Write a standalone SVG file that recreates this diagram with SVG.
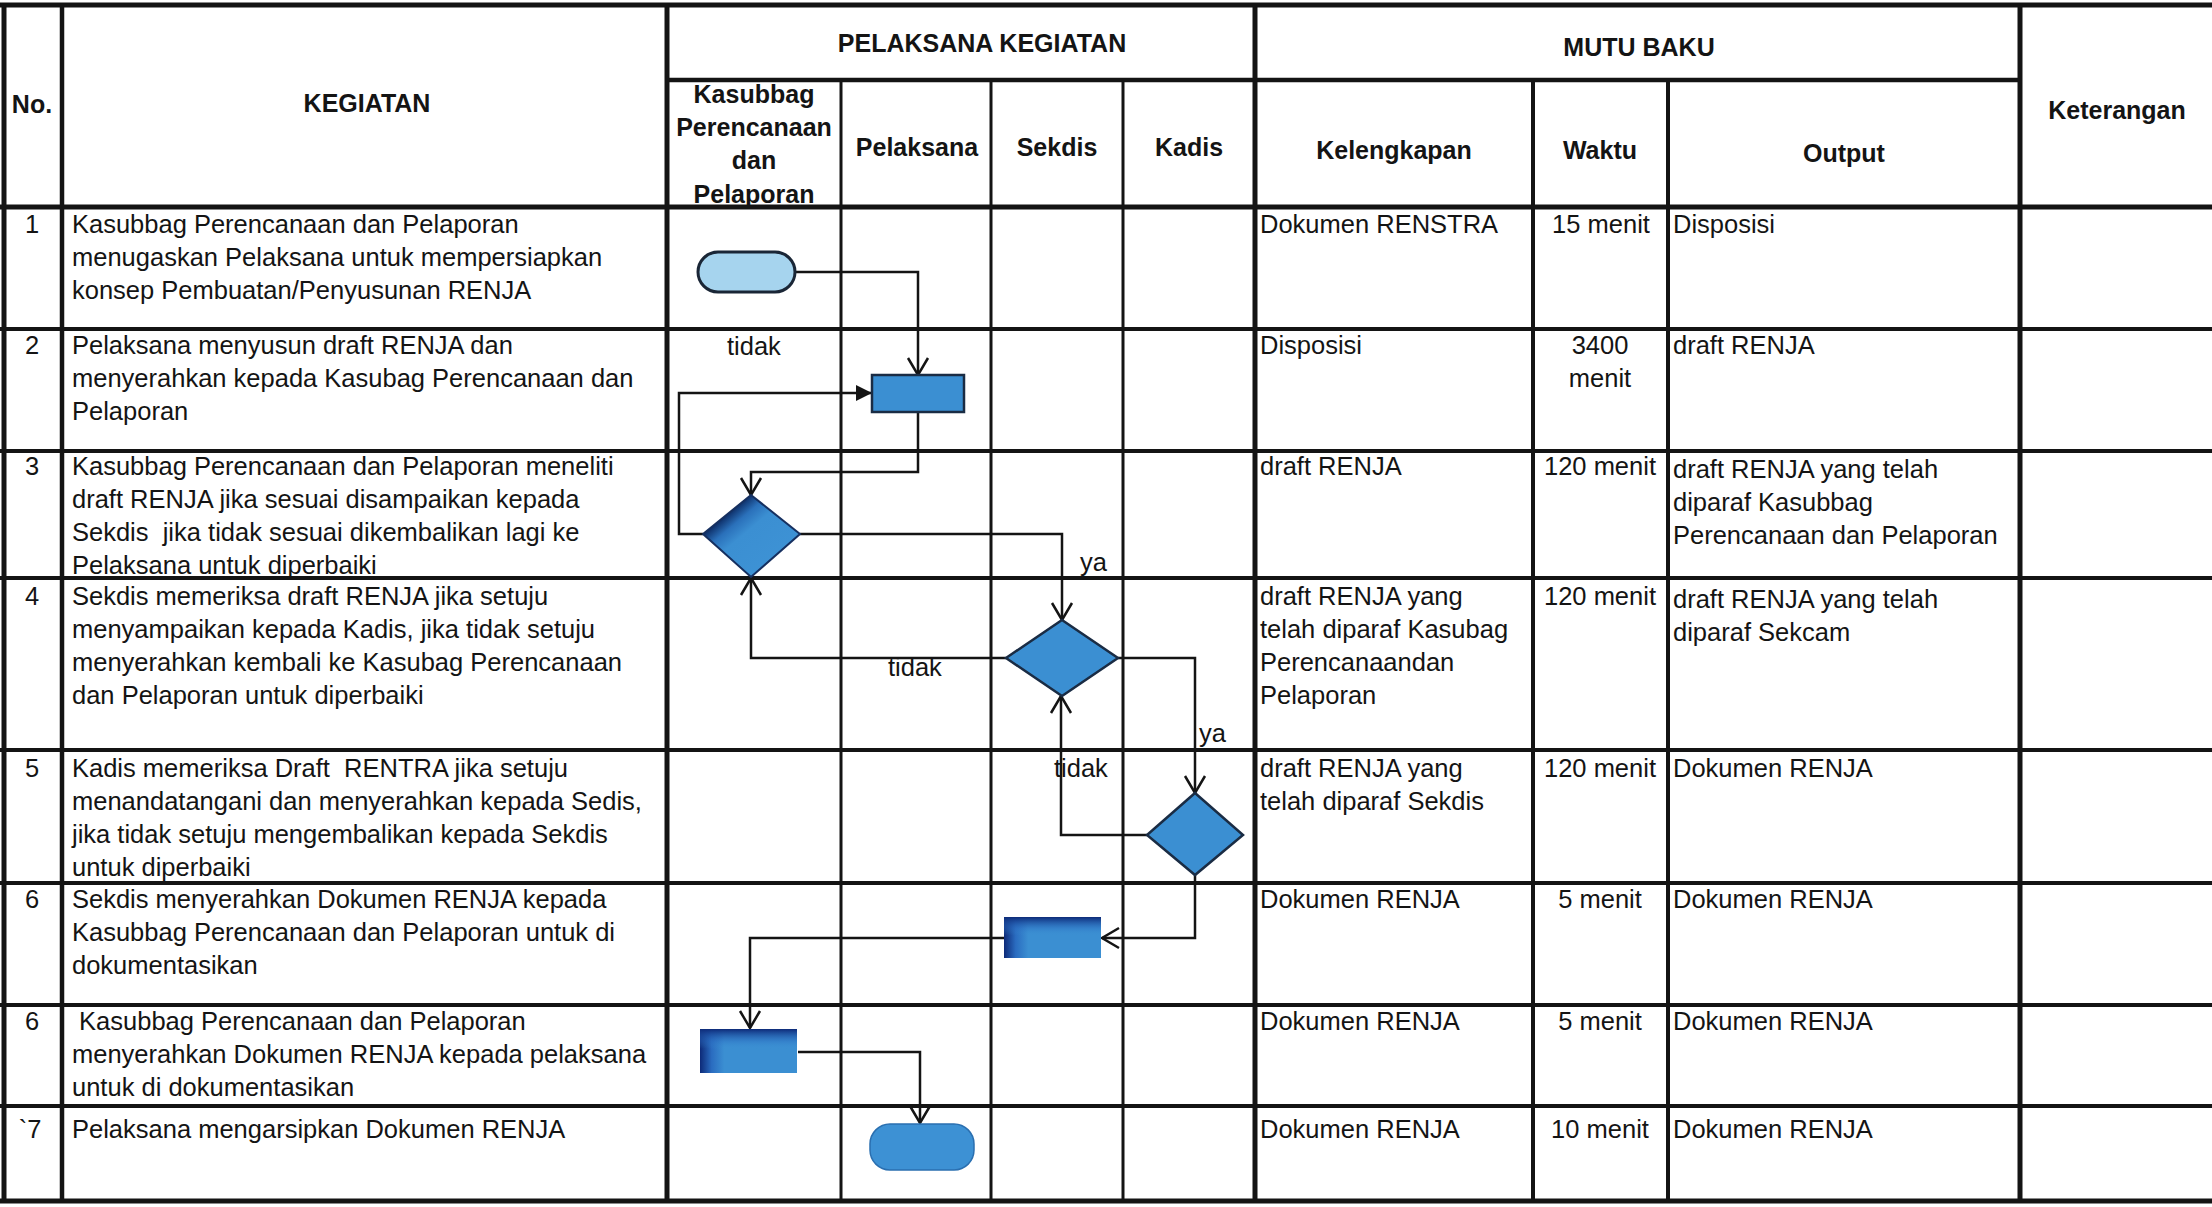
<svg xmlns="http://www.w3.org/2000/svg" width="2212" height="1207" viewBox="0 0 2212 1207">
<style>
.t{font-family:"Liberation Sans",Arial,sans-serif;font-size:25.5px;fill:#141414;white-space:pre}
.h{font-family:"Liberation Sans",Arial,sans-serif;font-size:25px;font-weight:bold;fill:#141414;text-anchor:middle}
.c{text-anchor:middle}
.L{stroke:#141414;fill:none}
.conn{fill:none;stroke:#141414;stroke-width:2.5}
.blue{fill:#3b8fd2;stroke:#1a2c44;stroke-width:2.5}
</style>
<defs>
<marker id="open" markerUnits="userSpaceOnUse" markerWidth="24" markerHeight="24" viewBox="0 0 24 24" refX="22" refY="12" orient="auto">
<path d="M5,2 L22,12 L5,22" fill="none" stroke="#141414" stroke-width="2.5"/>
</marker>
<marker id="solid" markerUnits="userSpaceOnUse" markerWidth="18" markerHeight="18" viewBox="0 0 18 18" refX="17" refY="9" orient="auto">
<path d="M1,1 L17,9 L1,17 Z" fill="#141414"/>
</marker>
<linearGradient id="gDia" x1="0" y1="0" x2="1" y2="1">
<stop offset="0" stop-color="#0a2458"/>
<stop offset="0.24" stop-color="#0d2d66"/>
<stop offset="0.34" stop-color="#2a70ba"/>
<stop offset="0.45" stop-color="#3b8fd2"/>
<stop offset="1" stop-color="#3f94d6"/>
</linearGradient>
<linearGradient id="gTop" x1="0" y1="0" x2="0" y2="1">
<stop offset="0" stop-color="#0d2a78" stop-opacity="1"/>
<stop offset="0.28" stop-color="#2a6cc0" stop-opacity="0.4"/>
<stop offset="0.45" stop-color="#3b8fd2" stop-opacity="0"/>
</linearGradient>
<linearGradient id="gLeft" x1="0" y1="0" x2="1" y2="0">
<stop offset="0" stop-color="#0d2a78"/>
<stop offset="0.12" stop-color="#2a6cc0"/>
<stop offset="0.25" stop-color="#3b8fd2"/>
<stop offset="1" stop-color="#3b8fd2"/>
</linearGradient>
</defs>
<rect x="0" y="0" width="2212" height="1207" fill="#ffffff"/>

<g id="table">
<line class="L" x1="0" y1="5" x2="2212" y2="5" stroke-width="5"/>
<line class="L" x1="667" y1="80" x2="2020" y2="80" stroke-width="4.5"/>
<line class="L" x1="0" y1="207" x2="2212" y2="207" stroke-width="5"/>
<line class="L" x1="0" y1="329" x2="2212" y2="329" stroke-width="4"/>
<line class="L" x1="0" y1="451" x2="2212" y2="451" stroke-width="4"/>
<line class="L" x1="0" y1="578" x2="2212" y2="578" stroke-width="4"/>
<line class="L" x1="0" y1="750" x2="2212" y2="750" stroke-width="4"/>
<line class="L" x1="0" y1="883" x2="2212" y2="883" stroke-width="4"/>
<line class="L" x1="0" y1="1005" x2="2212" y2="1005" stroke-width="4"/>
<line class="L" x1="0" y1="1106" x2="2212" y2="1106" stroke-width="4"/>
<line class="L" x1="0" y1="1201" x2="2212" y2="1201" stroke-width="5"/>
<line class="L" x1="4" y1="5" x2="4" y2="1201" stroke-width="5"/>
<line class="L" x1="62" y1="5" x2="62" y2="1201" stroke-width="4.5"/>
<line class="L" x1="667" y1="5" x2="667" y2="1201" stroke-width="5"/>
<line class="L" x1="841" y1="80" x2="841" y2="1201" stroke-width="3"/>
<line class="L" x1="991" y1="80" x2="991" y2="1201" stroke-width="3"/>
<line class="L" x1="1123" y1="80" x2="1123" y2="1201" stroke-width="3"/>
<line class="L" x1="1255" y1="5" x2="1255" y2="1201" stroke-width="5"/>
<line class="L" x1="1533" y1="80" x2="1533" y2="1201" stroke-width="4"/>
<line class="L" x1="1668" y1="80" x2="1668" y2="1201" stroke-width="4"/>
<line class="L" x1="2020" y1="5" x2="2020" y2="1201" stroke-width="5"/>
</g>

<g id="headers">
<text class="h" x="32" y="113">No.</text>
<text class="h" x="367" y="112">KEGIATAN</text>
<text class="h" x="982" y="52">PELAKSANA KEGIATAN</text>
<text class="h" x="1639" y="56">MUTU BAKU</text>
<text class="h" x="754" y="103">Kasubbag</text>
<text class="h" x="754" y="136">Perencanaan</text>
<text class="h" x="754" y="169">dan</text>
<text class="h" x="754" y="203">Pelaporan</text>
<text class="h" x="917" y="156">Pelaksana</text>
<text class="h" x="1057" y="156">Sekdis</text>
<text class="h" x="1189" y="156">Kadis</text>
<text class="h" x="1394" y="159">Kelengkapan</text>
<text class="h" x="1600" y="159">Waktu</text>
<text class="h" x="1844" y="162">Output</text>
<text class="h" x="2117" y="119">Keterangan</text>
</g>

<g id="col-no">
<text class="t c" x="32" y="233">1</text>
<text class="t c" x="32" y="354">2</text>
<text class="t c" x="32" y="475">3</text>
<text class="t c" x="32" y="605">4</text>
<text class="t c" x="32" y="777">5</text>
<text class="t c" x="32" y="908">6</text>
<text class="t c" x="32" y="1030">6</text>
<text class="t c" x="30" y="1138">`7</text>
</g>

<g id="col-kegiatan">
<text class="t" x="72" y="233">Kasubbag Perencanaan dan Pelaporan</text>
<text class="t" x="72" y="266">menugaskan Pelaksana untuk mempersiapkan</text>
<text class="t" x="72" y="299">konsep Pembuatan/Penyusunan RENJA</text>
<text class="t" x="72" y="354">Pelaksana menyusun draft RENJA dan</text>
<text class="t" x="72" y="387">menyerahkan kepada Kasubag Perencanaan dan</text>
<text class="t" x="72" y="420">Pelaporan</text>
<text class="t" x="72" y="475">Kasubbag Perencanaan dan Pelaporan meneliti</text>
<text class="t" x="72" y="508">draft RENJA jika sesuai disampaikan kepada</text>
<text class="t" x="72" y="541">Sekdis  jika tidak sesuai dikembalikan lagi ke</text>
<text class="t" x="72" y="574">Pelaksana untuk diperbaiki</text>
<text class="t" x="72" y="605">Sekdis memeriksa draft RENJA jika setuju</text>
<text class="t" x="72" y="638">menyampaikan kepada Kadis, jika tidak setuju</text>
<text class="t" x="72" y="671">menyerahkan kembali ke Kasubag Perencanaan</text>
<text class="t" x="72" y="704">dan Pelaporan untuk diperbaiki</text>
<text class="t" x="72" y="777">Kadis memeriksa Draft  RENTRA jika setuju</text>
<text class="t" x="72" y="810">menandatangani dan menyerahkan kepada Sedis,</text>
<text class="t" x="72" y="843">jika tidak setuju mengembalikan kepada Sekdis</text>
<text class="t" x="72" y="876">untuk diperbaiki</text>
<text class="t" x="72" y="908">Sekdis menyerahkan Dokumen RENJA kepada</text>
<text class="t" x="72" y="941">Kasubbag Perencanaan dan Pelaporan untuk di</text>
<text class="t" x="72" y="974">dokumentasikan</text>
<text class="t" x="72" y="1030"> Kasubbag Perencanaan dan Pelaporan</text>
<text class="t" x="72" y="1063">menyerahkan Dokumen RENJA kepada pelaksana</text>
<text class="t" x="72" y="1096">untuk di dokumentasikan</text>
<text class="t" x="72" y="1138">Pelaksana mengarsipkan Dokumen RENJA</text>
</g>

<g id="col-kelengkapan">
<text class="t" x="1260" y="233">Dokumen RENSTRA</text>
<text class="t" x="1260" y="354">Disposisi</text>
<text class="t" x="1260" y="475">draft RENJA</text>
<text class="t" x="1260" y="605">draft RENJA yang</text>
<text class="t" x="1260" y="638">telah diparaf Kasubag</text>
<text class="t" x="1260" y="671">Perencanaandan</text>
<text class="t" x="1260" y="704">Pelaporan</text>
<text class="t" x="1260" y="777">draft RENJA yang</text>
<text class="t" x="1260" y="810">telah diparaf Sekdis</text>
<text class="t" x="1260" y="908">Dokumen RENJA</text>
<text class="t" x="1260" y="1030">Dokumen RENJA</text>
<text class="t" x="1260" y="1138">Dokumen RENJA</text>
</g>

<g id="col-waktu">
<text class="t c" x="1601" y="233">15 menit</text>
<text class="t c" x="1600" y="354">3400</text>
<text class="t c" x="1600" y="387">menit</text>
<text class="t c" x="1600" y="475">120 menit</text>
<text class="t c" x="1600" y="605">120 menit</text>
<text class="t c" x="1600" y="777">120 menit</text>
<text class="t c" x="1600" y="908">5 menit</text>
<text class="t c" x="1600" y="1030">5 menit</text>
<text class="t c" x="1600" y="1138">10 menit</text>
</g>

<g id="col-output">
<text class="t" x="1673" y="233">Disposisi</text>
<text class="t" x="1673" y="354">draft RENJA</text>
<text class="t" x="1673" y="478">draft RENJA yang telah</text>
<text class="t" x="1673" y="511">diparaf Kasubbag</text>
<text class="t" x="1673" y="544">Perencanaan dan Pelaporan</text>
<text class="t" x="1673" y="608">draft RENJA yang telah</text>
<text class="t" x="1673" y="641">diparaf Sekcam</text>
<text class="t" x="1673" y="777">Dokumen RENJA</text>
<text class="t" x="1673" y="908">Dokumen RENJA</text>
<text class="t" x="1673" y="1030">Dokumen RENJA</text>
<text class="t" x="1673" y="1138">Dokumen RENJA</text>
</g>

<g id="connectors">
<path class="conn" d="M795,272 H918 V375" marker-end="url(#open)"/>
<path class="conn" d="M918,412 V472 H751 V495" marker-end="url(#open)"/>
<path class="conn" d="M703,534 H679 V393 H872" marker-end="url(#solid)"/>
<path class="conn" d="M800,534 H1062 V620" marker-end="url(#open)"/>
<path class="conn" d="M1006,658 H751 V578" marker-end="url(#open)"/>
<path class="conn" d="M1118,658 H1195 V793" marker-end="url(#open)"/>
<path class="conn" d="M1147,835 H1061 V696" marker-end="url(#open)"/>
<path class="conn" d="M1195,875 V938 H1102" marker-end="url(#open)"/>
<path class="conn" d="M1004,938 H750 V1028" marker-end="url(#open)"/>
<path class="conn" d="M798,1052 H920 V1123" marker-end="url(#open)"/>
<text class="t" x="727" y="355">tidak</text>
<text class="t" x="1080" y="571">ya</text>
<text class="t" x="888" y="676">tidak</text>
<text class="t" x="1199" y="742">ya</text>
<text class="t" x="1054" y="777">tidak</text>
</g>

<g id="n1-start">
<rect x="698" y="252" width="97" height="40" rx="20" fill="#a6d4ee" stroke="#1a2636" stroke-width="3"/>
</g>
<g id="n2-pelaksana-menyusun">
<rect class="blue" x="872" y="375" width="92" height="37"/>
</g>
<g id="n3-kasubbag-decision">
<polygon points="751,495 800,534 751,577 703,534" fill="url(#gDia)" stroke="#163060" stroke-width="2"/>
</g>
<g id="n4-sekdis-decision">
<polygon class="blue" points="1062,620 1118,658 1062,696 1006,658"/>
</g>
<g id="n5-kadis-decision">
<polygon class="blue" points="1195,793 1243,835 1195,875 1147,835"/>
</g>
<g id="n6-sekdis-serah">
<rect x="1004" y="917" width="97" height="41" fill="url(#gLeft)"/>
<rect x="1004" y="917" width="97" height="41" fill="url(#gTop)"/>
</g>
<g id="n7-kasubbag-serah">
<rect x="700" y="1029" width="97" height="44" fill="url(#gLeft)"/>
<rect x="700" y="1029" width="97" height="44" fill="url(#gTop)"/>
</g>
<g id="n8-end">
<rect x="870" y="1124" width="104" height="46" rx="20" fill="#3d91d4" stroke="#2a6fb0" stroke-width="1.5"/>
</g>
</svg>
